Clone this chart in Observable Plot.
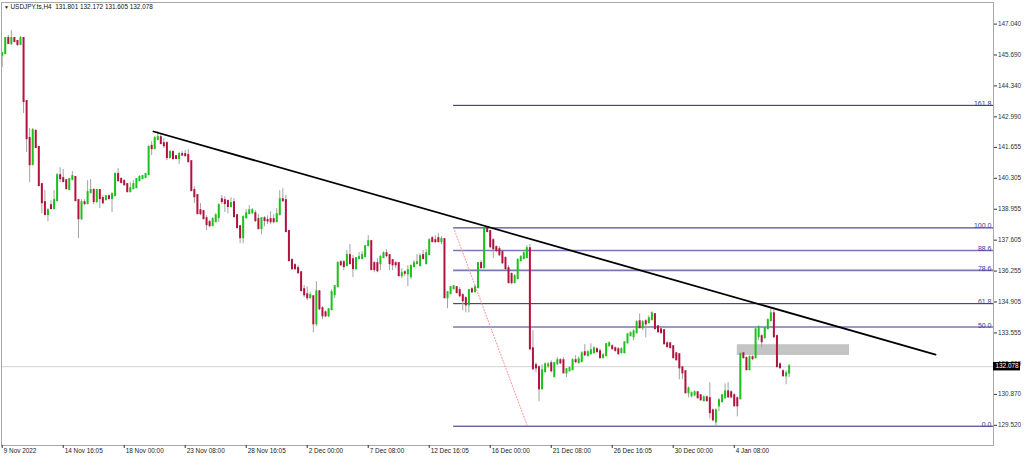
<!DOCTYPE html>
<html><head><meta charset="utf-8">
<script src="https://cdn.jsdelivr.net/npm/d3@7"></script>
<script src="https://cdn.jsdelivr.net/npm/@observablehq/plot@0.6"></script>
<style>
html,body{margin:0;padding:0;background:#fff;overflow:hidden}
#chart svg{display:block}
</style></head><body><div id="chart"></div>
<script>
// ---- data ----
const symbolName = "USDJPY.ts,H4";
// one row per H4 bar: [open, high, low, close]
const candles = [
[145.67,145.80,145.14,145.75],[145.75,146.45,145.71,146.41],[146.41,146.54,146.15,146.19],[146.19,146.76,146.10,146.41],
[146.41,146.45,146.23,146.28],[146.28,146.32,146.06,146.15],[146.15,146.50,146.10,146.41],[146.41,146.45,143.13,143.66],
[143.66,143.70,141.43,142.04],[142.04,142.48,140.12,140.90],[140.90,142.48,140.86,142.39],[142.35,142.43,141.60,141.65],
[141.65,141.69,139.94,139.99],[140.03,140.07,138.76,139.24],[139.24,139.77,138.70,138.72],[138.72,138.98,138.41,138.89],
[139.11,139.33,138.94,138.98],[138.98,139.77,138.94,139.33],[139.33,140.51,139.29,140.42],[140.42,140.77,140.12,140.29],
[140.29,140.69,140.12,140.16],[140.20,140.25,139.81,139.85],[139.81,140.29,139.77,140.25],[140.25,140.60,140.20,140.38],
[140.34,140.38,139.29,139.33],[139.33,139.37,137.67,138.54],[138.54,139.37,138.46,139.24],[139.24,139.37,139.11,139.20],
[139.20,140.20,139.15,139.68],[139.68,140.25,139.63,139.77],[139.77,139.85,139.15,139.29],[139.29,139.81,139.20,139.77],
[139.77,139.81,138.98,139.42],[139.42,139.55,139.15,139.24],[139.37,139.55,139.33,139.50],[139.50,139.59,139.37,139.42],
[139.42,139.68,138.81,139.59],[139.55,140.55,139.50,140.47],[140.47,140.73,140.16,140.20],[140.25,140.34,140.07,140.12],
[140.16,140.25,139.94,140.03],[140.03,140.07,139.68,139.72],[139.72,140.12,139.68,139.85],[139.85,140.20,139.81,140.03],
[139.90,140.29,139.85,140.25],[140.20,140.42,140.16,140.34],[140.29,140.42,140.25,140.38],[140.34,140.51,140.29,140.47],
[140.47,141.73,140.42,141.65],[141.70,141.91,141.30,141.60],[141.60,142.13,141.56,142.04],[142.00,142.35,141.95,142.08],
[142.08,142.21,141.78,141.82],[141.82,142.04,141.60,141.73],[141.82,141.91,141.08,141.21],[141.21,141.52,141.17,141.43],
[141.43,141.52,141.08,141.17],[141.25,141.30,141.12,141.17],[141.17,141.43,140.90,141.34],[141.34,141.47,141.25,141.32],
[141.34,141.52,141.21,141.30],[141.30,141.56,140.99,141.03],[141.03,141.08,139.72,139.77],[139.77,139.94,139.20,139.50],
[139.55,139.59,138.72,138.76],[138.89,139.20,138.67,138.76],[138.85,138.89,138.50,138.54],[138.54,138.67,138.02,138.28],
[138.37,138.46,138.15,138.24],[138.24,138.59,138.19,138.50],[138.41,138.76,138.37,138.67],[138.59,139.20,138.37,139.11],
[139.37,139.55,139.15,139.29],[139.33,139.50,138.81,139.20],[139.29,139.37,138.76,139.07],[139.07,139.46,139.02,139.20],
[139.24,139.42,138.59,138.63],[138.67,138.72,138.11,138.15],[138.19,138.24,137.45,137.71],[137.71,138.67,137.45,138.59],
[138.59,138.94,138.50,138.76],[138.76,139.11,138.72,138.89],[138.81,138.98,138.72,138.89],[138.76,138.89,138.37,138.46],
[138.50,138.72,138.06,138.11],[138.11,138.59,137.84,138.54],[138.54,138.63,138.19,138.46],[138.46,138.67,138.28,138.44],
[138.50,138.85,138.28,138.41],[138.50,138.72,138.32,138.41],[138.41,138.98,138.37,138.72],[138.72,139.77,138.67,139.37],
[139.37,139.85,139.24,139.33],[139.33,139.55,137.93,137.98],[137.98,138.02,136.66,136.71],[136.71,136.80,136.27,136.36],
[136.49,136.58,136.27,136.36],[136.36,136.49,136.14,136.18],[136.18,136.23,135.35,135.40],[135.44,135.62,135.09,135.22],
[135.22,135.57,134.96,135.09],[135.09,135.31,135.05,135.18],[135.13,135.18,133.56,133.95],[133.95,135.79,133.82,135.35],
[135.35,135.40,134.52,134.61],[134.61,134.70,134.13,134.30],[134.43,134.52,134.22,134.30],[134.30,134.61,134.22,134.57],
[134.57,135.44,134.52,135.31],[135.22,135.62,135.05,135.57],[135.57,136.66,135.53,136.58],[136.62,136.71,136.45,136.53],
[136.62,136.71,136.27,136.45],[136.49,137.15,136.45,136.93],[136.93,137.41,136.53,136.58],[136.75,136.93,135.97,136.36],
[136.36,136.84,136.27,136.80],[136.80,137.06,136.75,136.84],[136.80,137.10,136.75,136.93],[136.88,137.36,136.84,137.32],
[137.36,137.80,137.32,137.54],[137.54,137.58,136.27,136.32],[136.58,136.66,136.18,136.32],[136.58,136.80,136.18,136.27],
[136.58,136.93,136.27,136.84],[136.84,137.10,136.80,137.01],[137.01,137.19,136.84,136.93],[136.93,136.97,136.27,136.58],
[136.71,136.75,136.27,136.53],[136.58,136.66,136.36,136.53],[136.58,136.62,136.01,136.05],[136.05,136.36,135.92,136.14],
[136.18,136.27,136.01,136.16],[136.14,136.49,135.57,136.27],[136.01,136.53,135.88,136.45],[136.45,136.71,136.40,136.58],
[136.58,136.97,136.53,136.62],[136.49,137.01,136.45,136.88],[136.93,137.15,136.75,136.80],[136.58,137.19,136.53,137.01],
[136.97,137.67,136.93,137.58],[137.67,137.76,137.49,137.54],[137.58,137.80,137.45,137.54],[137.67,137.89,137.49,137.54],
[137.54,137.76,137.41,137.63],[137.63,137.67,135.05,135.09],[135.09,135.35,134.61,135.31],[135.27,135.57,135.22,135.53],
[135.48,135.62,135.44,135.57],[135.53,135.57,135.27,135.31],[135.40,135.53,135.09,135.18],[135.18,135.27,134.52,134.96],
[135.05,135.13,134.43,134.78],[134.78,135.44,134.43,135.40],[135.44,135.53,135.27,135.35],[135.35,135.62,135.31,135.53],
[135.53,136.62,135.48,136.58],[136.58,136.71,136.36,136.40],[136.40,138.15,136.36,138.11],[138.11,138.19,137.93,137.98],
[137.98,138.02,137.23,137.32],[137.58,137.67,136.80,137.23],[137.28,137.36,137.06,137.15],[137.19,137.32,136.88,136.97],
[137.06,137.10,136.53,136.62],[136.80,136.88,136.27,136.36],[136.36,136.49,135.70,135.75],[136.10,136.18,135.66,135.75],
[135.75,136.10,135.70,136.01],[135.92,136.80,135.88,136.71],[136.71,136.93,136.66,136.84],[136.80,137.10,136.75,137.01],
[136.84,137.36,136.80,137.23],[137.23,137.41,132.78,132.86],[132.86,133.65,131.90,131.99],[132.12,132.25,131.81,132.03],
[132.03,132.12,130.55,131.11],[131.11,132.16,131.07,131.90],[131.86,132.25,131.81,132.16],[132.12,132.25,131.99,132.16],
[132.21,132.34,131.81,131.90],[131.64,132.25,131.60,132.21],[132.21,132.47,132.12,132.34],[132.34,132.43,132.16,132.25],
[132.34,132.47,131.77,131.81],[131.81,131.99,131.60,131.95],[131.90,132.08,131.86,131.99],[131.95,132.43,131.90,132.34],
[132.34,132.56,132.21,132.30],[132.25,132.51,132.21,132.38],[132.30,132.73,132.25,132.64],[132.69,133.04,132.51,132.60],
[132.56,132.78,132.51,132.69],[132.64,133.08,132.60,132.78],[132.69,132.95,132.64,132.86],[132.82,132.91,132.69,132.73],
[132.73,132.86,132.43,132.47],[132.47,132.64,132.43,132.56],[132.56,133.08,132.51,133.04],[132.99,133.17,132.95,133.08],
[132.95,133.04,132.82,132.86],[132.86,132.95,132.73,132.78],[132.82,132.91,132.60,132.64],[132.69,132.91,132.64,132.82],
[132.69,133.17,132.64,133.12],[133.12,133.52,133.08,133.47],[133.43,133.60,133.39,133.52],[133.39,133.69,133.21,133.60],
[133.56,134.09,133.52,134.00],[134.04,134.39,133.74,133.78],[133.78,134.09,133.65,134.00],[134.04,134.13,133.34,133.95],
[134.00,134.30,133.95,134.17],[134.13,134.48,134.09,134.39],[134.35,134.39,133.69,133.74],[133.82,133.87,133.56,133.60],
[133.69,133.78,133.52,133.56],[133.65,133.69,133.04,133.08],[133.08,133.17,132.91,132.95],[133.08,133.12,132.86,132.91],
[132.95,132.99,132.43,132.47],[132.64,132.69,132.34,132.38],[132.60,132.64,131.51,132.03],[132.03,132.08,131.51,131.81],
[131.86,131.90,130.90,130.94],[130.94,131.20,130.72,131.11],[130.81,130.98,130.72,130.90],[130.85,131.03,130.76,130.94],
[130.94,130.98,130.68,130.72],[130.81,130.85,130.59,130.63],[130.59,130.81,130.55,130.72],[130.72,130.81,130.55,130.59],
[130.68,131.38,129.80,130.07],[130.15,130.24,129.67,129.76],[129.67,130.24,129.45,130.15],[130.37,130.68,130.11,130.59],
[130.55,130.85,130.50,130.81],[130.72,131.33,130.68,130.98],[130.98,131.38,130.72,130.76],[130.94,131.03,130.68,130.76],
[130.81,130.90,130.33,130.37],[130.68,130.76,129.89,130.37],[130.68,132.69,130.63,132.60],[132.64,132.69,132.43,132.47],
[132.43,132.51,131.90,131.95],[131.95,132.56,131.90,132.47],[132.47,132.56,132.34,132.43],[132.47,133.74,132.43,133.69],
[133.39,133.87,133.21,133.78],[133.39,133.47,132.91,133.17],[133.34,133.82,133.30,133.74],[133.74,134.17,133.69,134.09],
[134.09,134.65,134.04,134.39],[134.39,134.65,133.30,133.39],[133.39,133.47,132.03,132.08],[132.16,132.25,131.99,132.03],
[131.86,131.95,131.64,131.68],[131.68,131.90,131.29,131.77],[131.801,132.172,131.605,132.078]
];
const timeLabelBars = [0,20,40,60,80,100,120,140,160,180,200,220,240];
const timeLabels = ["9 Nov 2022","14 Nov 16:05","18 Nov 00:00","23 Nov 08:00","28 Nov 16:05","2 Dec 00:00","7 Dec 08:00","12 Dec 16:05","16 Dec 00:00","21 Dec 08:00","26 Dec 16:05","30 Dec 00:00","4 Jan 08:00"];
const priceTicks = [147.040,145.690,144.340,142.990,141.655,140.305,138.955,137.605,136.255,134.905,133.555,132.220,130.870,129.520];
const fibLevels = [161.8,100.0,88.6,78.6,61.8,50.0,0.0];
const fibStrongLevels = [161.8,100.0,61.8,0.0];
const fibLow = 129.48, fibHigh = 138.14;
const fibStartBar = 148, fibDiagEndBar = 172.2;
const trendPoints = [[49.6,142.35],[306,132.61]];
const zoneBox = [{x1:241, x2:277.8, y1:132.57, y2:133.04}];
const bidPrice = 132.078;
const xDomain = [-0.23, 325];
const yDomain = [128.638, 147.983];

// ---- derived tables ----
const bars = candles.map(([open,high,low,close],i)=>({i,open,high,low,close,up:close>=open}));
const last = candles[candles.length-1];
const headerText = `${symbolName}  ${last.map(v=>v.toFixed(3)).join(" ")}`;
const fibRows = fibLevels.map(l=>({
  level:l, price: fibLow + l/100*(fibHigh-fibLow), label: l.toFixed(1),
  strong: fibStrongLevels.includes(l), x1: fibStartBar, x2: xDomain[1]
}));
const timeRows = timeLabelBars.map((b,k)=>({i:b,label:timeLabels[k]}));
const bull = "#1cc21c", bear = "#b3123f";

const chart = Plot.plot({
  width: 1024, height: 456,
  marginLeft: 1, marginRight: 31, marginTop: 2, marginBottom: 11,
  style: {fontFamily: "'Liberation Sans', Arial, sans-serif", fontSize: "6.4px", background: "#fff", color: "#222", overflow: "visible"},
  x: {domain: xDomain, axis: null},
  y: {domain: yDomain, axis: null},
  marks: [
    Plot.ruleY([bidPrice], {stroke: "#dcdcdc", strokeWidth: 1.3}),
    Plot.rect(zoneBox, {x1:"x1", x2:"x2", y1:"y1", y2:"y2", fill:"#c4c4c4"}),
    Plot.ruleY(fibRows.filter(d=>!d.strong), {y:"price", x1:"x1", x2:"x2", stroke:"#7878b4", strokeWidth:1.6}),
    Plot.ruleY(fibRows.filter(d=>d.strong), {y:"price", x1:"x1", x2:"x2", stroke:"#25256e", strokeWidth:1}),
    Plot.line([[fibStartBar, fibHigh],[fibDiagEndBar, fibLow]], {stroke:"#ff8a8a", strokeWidth:1, strokeDasharray:"1 2"}),
    Plot.text(fibRows, {y:"price", text:"label", frameAnchor:"right", textAnchor:"end", lineAnchor:"bottom", dx:-2, dy:0.5, fill:"#3a3a9c", fontSize:7}),
    Plot.ruleX(bars, {x:"i", y1:"low", y2:"high", stroke:"#a2a2a2", strokeWidth:1}),
    Plot.ruleX(bars, {x:"i", y1:"open", y2:"close", stroke: d => d.up ? bull : bear, strokeWidth:2, strokeLinecap:"square"}),
    Plot.line(trendPoints, {stroke:"#000", strokeWidth:1.8}),
    Plot.frame({stroke:"#a8a8a8"}),
    Plot.axisY({anchor:"right", ticks: priceTicks, tickFormat: d => d.toFixed(3), tickSize:3, tickPadding:1.5, color:"#333"}),
    Plot.axisX({anchor:"bottom", ticks: timeLabelBars, tickSize:3, tickFormat: () => "", color:"#333"}),
    Plot.text(timeRows, {x:"i", text:"label", frameAnchor:"bottom", textAnchor:"start", lineAnchor:"middle", dx:1.5, dy:5.8, fill:"#222"}),
    Plot.text(["\u25BC"], {frameAnchor:"top-left", dx:5, dy:4.5, textAnchor:"middle", lineAnchor:"middle", fontSize:5, fill:"#222"}),
    Plot.text([headerText], {frameAnchor:"top-left", dx:9, dy:4.5, textAnchor:"start", lineAnchor:"middle", fill:"#111"})
  ]
});

// current price label box on the right axis, positioned with the chart's own y scale
const yb = chart.scale("y").apply(bidPrice);
const g = d3.select(chart).append("g");
g.append("rect").attr("x", 993).attr("y", yb - 4.2).attr("width", 27).attr("height", 8.4).attr("fill", "#000");
g.append("text").attr("x", 995.5).attr("y", yb).attr("dy", "0.35em").attr("fill", "#fff")
  .attr("text-anchor", "start").style("font-size", "6.4px").text(bidPrice.toFixed(3));

document.getElementById("chart").appendChild(chart);
</script></body></html>
